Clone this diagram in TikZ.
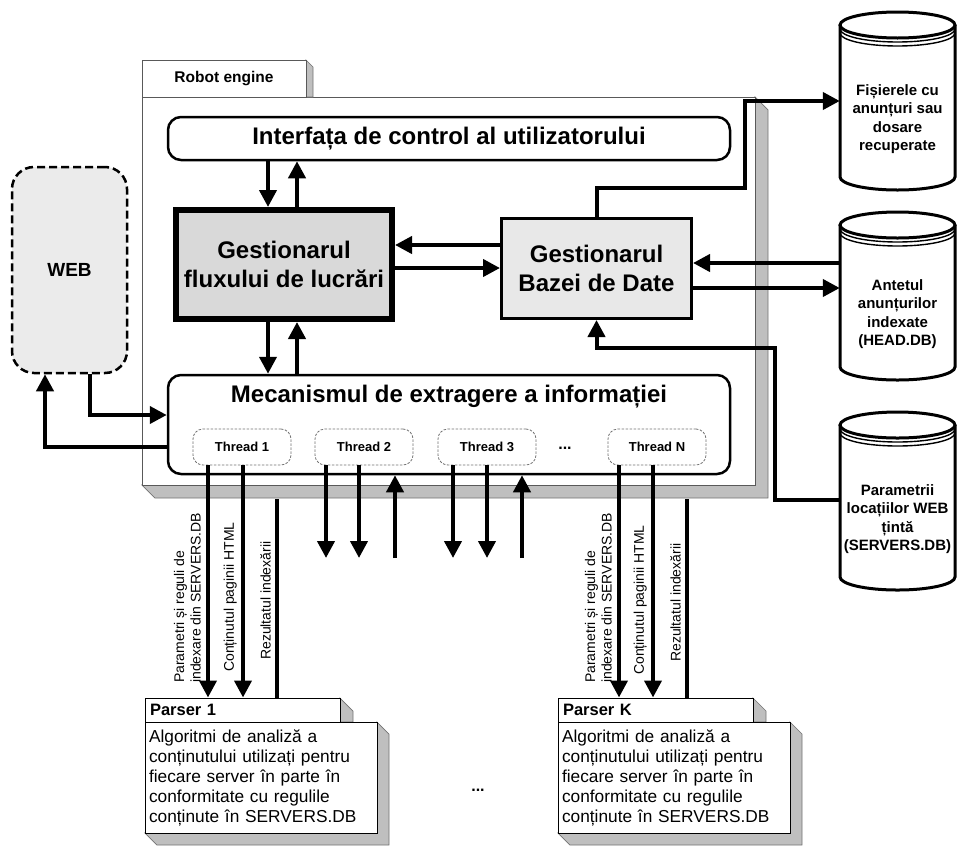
\documentclass[tikz,border=0pt]{standalone}
\usepackage{fontspec}
\setmainfont{Liberation Sans}
\usetikzlibrary{arrows.meta,calc}
\newcommand\dbcyl[6]{%
  \pgfmathsetmacro\cylrx{(#3-#2)/2}%
  \pgfmathsetmacro\cylcx{(#3+#2)/2}%
  \draw[line width=3pt,fill=white] (#2,#4+13) -- (#2,#5-13) arc[start angle=180,end angle=360,x radius=\cylrx pt,y radius=13pt] -- (#3,#4+13);
  \draw[line width=3pt,fill=white] (\cylcx,#4+13) ellipse[x radius=\cylrx pt,y radius=13pt];
  \draw[line width=1.4pt] (#2,#4+17) arc[start angle=180,end angle=360,x radius=\cylrx pt,y radius=13pt];
  \draw[line width=1.4pt] (#2,#4+21) arc[start angle=180,end angle=360,x radius=\cylrx pt,y radius=13pt];
  \node[cyltext,minimum width={(#3-#2)*1pt}] (#1) at (\cylcx,{(#4+#5)/2+18}) {#6};
}
\begin{document}
\begin{tikzpicture}[x=1pt,y=-1pt,
  arr/.style={line width=4pt,-{Triangle[length=17pt,width=17pt]}},
  ln/.style={line width=4pt},
  shd/.style={fill=black!25,draw=black!55,line width=0.7pt},
  eng/.style={draw=black!65,line width=1pt,fill=white,inner sep=0pt},
  rbox/.style={draw,line width=2.5pt,rounded corners=13pt,fill=white,inner sep=0pt},
  title/.style={font=\fontsize{24}{29}\selectfont\bfseries,align=center},
  thr/.style={draw=black!55,line width=0.8pt,dash pattern=on 2.5pt off 1.5pt,rounded corners=10pt,fill=white,minimum width=98pt,minimum height=36pt,inner sep=0pt,font=\fontsize{13}{15}\selectfont\bfseries},
  cyltext/.style={inner sep=0pt,align=center,font=\fontsize{15}{18.5}\selectfont\bfseries},
  lab/.style={rotate=90,inner sep=0pt,font=\fontsize{14}{16.5}\selectfont,align=left,anchor=south west},
  phead/.style={draw,line width=1pt,fill=white,text width=185pt,minimum height=24pt,inner xsep=5pt,inner ysep=0pt,align=left,font=\fontsize{16.5}{19}\selectfont\bfseries},
  pbody/.style={draw,line width=1pt,fill=white,text width=224pt,minimum height=111pt,inner xsep=4pt,inner ysep=0pt,align=left,font=\fontsize{17.3}{20}\selectfont}
]
\useasboundingbox (0,0) rectangle (957,846);
% ---------- engine ----------
\fill[shd] (755,97) -- (768,110) -- (768,498) -- (155,498) -- (142,485) -- (755,485) -- cycle;
\node[eng,minimum width=613pt,minimum height=388pt] (engine) at (448.5,291) {};
\fill[shd] (306,60) -- (313,67) -- (313,97) -- (306,97) -- cycle;
\node[eng,minimum width=164pt,minimum height=37pt,font=\fontsize{15.5}{18}\selectfont\bfseries] (tab) at (224,78.5) {Robot engine};
\node[rbox,minimum width=562pt,minimum height=43pt,title] (ui) at (449,138.5) {Interfața de control al utilizatorului};
\node[draw,line width=6pt,fill=black!15,minimum width=216pt,minimum height=109pt,title] (flux) at (284,264.5) {Gestionarul\\fluxului de lucrări};
\node[draw,line width=3pt,fill=black!9,minimum width=190pt,minimum height=100pt,title] (db) at (596.5,268.5) {Gestionarul\\Bazei de Date};
\node[rbox,minimum width=562pt,minimum height=99pt] (mec) at (449,424.5) {};
\node[title] (mect) at (449,397) {Mecanismul de extragere a informației};
\node[thr] (t1) at (242,447) {Thread 1};
\node[thr] (t2) at (364,447) {Thread 2};
\node[thr] (t3) at (487,447) {Thread 3};
\node[font=\fontsize{16}{18}\selectfont\bfseries] (tdots) at (565,448) {...};
\node[thr] (tn) at (657,447) {Thread N};
% ---------- WEB ----------
\node[draw,line width=2.5pt,dash pattern=on 8pt off 4pt,rounded corners=22pt,fill=black!8,minimum width=115pt,minimum height=206pt,font=\fontsize{19}{22}\selectfont\bfseries] (web) at (69.5,270) {WEB};
% ---------- cylinders ----------
\dbcyl{c1}{840}{955}{12}{190}{Fișierele cu\\anunțuri sau\\dosare\\recuperate}
\dbcyl{c2}{840}{955}{212}{380}{Antetul\\anunțurilor\\indexate\\(HEAD.DB)}
\dbcyl{c3}{840}{955}{412}{590}{Parametrii\\locațiilor WEB\\țintă\\(SERVERS.DB)}
% ---------- parsers ----------
\fill[shd] (340,698) -- (353,711) -- (353,722) -- (340,722) -- cycle;
\fill[shd] (377,722) -- (389,734) -- (389,845) -- (157,845) -- (145,833) -- (377,833) -- cycle;
\node[phead] (p1h) at (242.5,710) {Parser 1};
\node[pbody] (p1b) at (261,777.5) {Algoritmi de analiză a\\conținutului utilizați pentru\\fiecare server în parte în\\conformitate cu regulile\\conținute în SERVERS.DB};
\begin{scope}[xshift=413pt]
\fill[shd] (340,698) -- (353,711) -- (353,722) -- (340,722) -- cycle;
\fill[shd] (377,722) -- (389,734) -- (389,845) -- (157,845) -- (145,833) -- (377,833) -- cycle;
\end{scope}
\node[phead] (pkh) at (655.5,710) {Parser K};
\node[pbody] (pkb) at (674,777.5) {Algoritmi de analiză a\\conținutului utilizați pentru\\fiecare server în parte în\\conformitate cu regulile\\conținute în SERVERS.DB};
\node[font=\fontsize{16}{18}\selectfont\bfseries] (pdots) at (478,790) {...};
% ---------- guide coordinates ----------
\coordinate (xa) at (268,0);
\coordinate (xb) at (297,0);
\coordinate (ya) at (0,245);
\coordinate (yb) at (0,268);
\coordinate (yc) at (0,263);
\coordinate (yd) at (0,288);
\coordinate (k1) at (745,188);
\coordinate (k2) at (745,101);
\coordinate (k3) at (775,348);
\coordinate (k5) at (0,500);
\coordinate (xw1) at (90,0);
\coordinate (yw1) at (0,415);
\coordinate (xw2) at (45,0);
\coordinate (yw2) at (0,447);
\coordinate (x1a) at (208,0);
\coordinate (x1b) at (243,0);
\coordinate (r1) at (277,499);
\coordinate (e2a) at (326,558);
\coordinate (e2b) at (359,558);
\coordinate (u2) at (395,558);
\coordinate (e3a) at (453,558);
\coordinate (e3b) at (487,558);
\coordinate (u3) at (522,558);
\coordinate (xna) at (619,0);
\coordinate (xnb) at (653,0);
\coordinate (rk) at (687,499);
% ---------- connectors ----------
\draw[arr] (ui.south -| xa) -- (flux.north -| xa);
\draw[arr] (flux.north -| xb) -- (ui.south -| xb);
\draw[arr] (flux.south -| xa) -- (mec.north -| xa);
\draw[arr] (mec.north -| xb) -- (flux.south -| xb);
\draw[arr] (db.west |- ya) -- (flux.east |- ya);
\draw[arr] (flux.east |- yb) -- (db.west |- yb);
\draw[arr] (db.north) |- (k1) -- (k2) -- (c1.west |- k2);
\draw[arr] (c2.west |- yc) -- (db.east |- yc);
\draw[arr] (db.east |- yd) -- (c2.west |- yd);
\draw[arr] (c3.west |- k5) -| (k3) -| (db.south);
\draw[arr] (web.south -| xw1) |- (mec.west |- yw1);
\draw[arr] (mec.west |- yw2) -| (web.south -| xw2);
\draw[arr] (t1.south -| x1a) -- (p1h.north -| x1a);
\draw[arr] (t1.south -| x1b) -- (p1h.north -| x1b);
\draw[ln] (r1) -- (p1h.north -| r1);
\draw[arr] (t2.south -| e2a) -- (e2a);
\draw[arr] (t2.south -| e2b) -- (e2b);
\draw[arr] (u2) -- (mec.south -| u2);
\draw[arr] (t3.south -| e3a) -- (e3a);
\draw[arr] (t3.south -| e3b) -- (e3b);
\draw[arr] (u3) -- (mec.south -| u3);
\draw[arr] (tn.south -| xna) -- (pkh.north -| xna);
\draw[arr] (tn.south -| xnb) -- (pkh.north -| xnb);
\draw[ln] (rk) -- (pkh.north -| rk);
% ---------- rotated labels ----------
\node[lab] (l1a) at (201,683) {Parametri și reguli de\\indexare din SERVERS.DB};
\node[lab] (l1b) at (237,672) {Conținutul paginii HTML};
\node[lab] (l1c) at (271,660) {Rezultatul indexării};
\node[lab] (lka) at (612,683) {Parametri și reguli de\\indexare din SERVERS.DB};
\node[lab] (lkb) at (647,675) {Conținutul paginii HTML};
\node[lab] (lkc) at (681,662) {Rezultatul indexării};
\end{tikzpicture}
\end{document}
